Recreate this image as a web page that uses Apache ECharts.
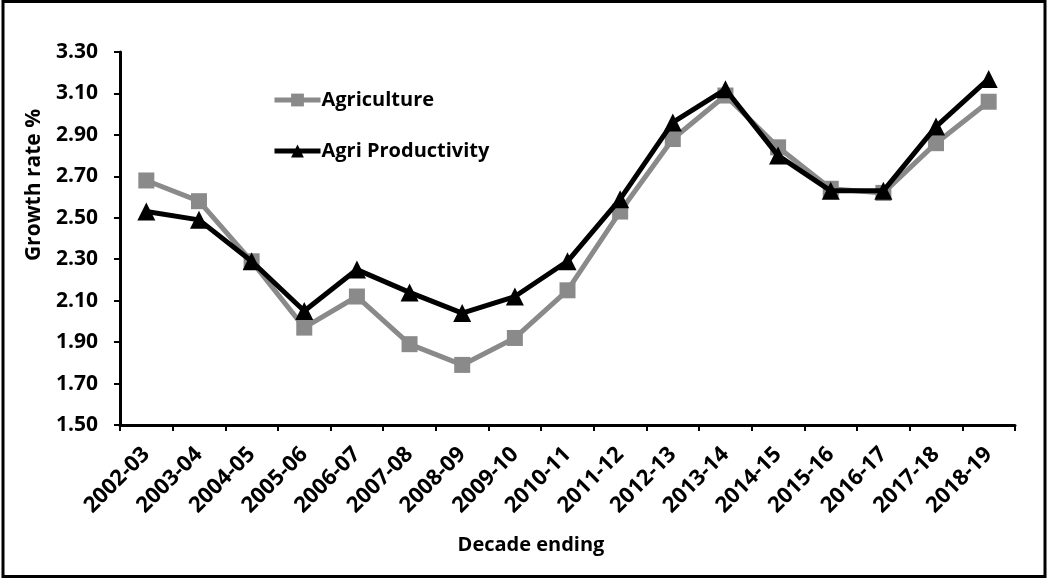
<!DOCTYPE html>
<html><head><meta charset="utf-8">
<script src="https://cdn.jsdelivr.net/npm/echarts@6/dist/echarts.min.js"></script>
<style>html,body{margin:0;padding:0;background:#fff}#c{width:1049px;height:579px}</style>
</head><body><div id="c"></div>
<script>
const categories = ["2002-03","2003-04","2004-05","2005-06","2006-07","2007-08","2008-09","2009-10","2010-11","2011-12","2012-13","2013-14","2014-15","2015-16","2016-17","2017-18","2018-19"];
const agriculture = [2.68,2.58,2.29,1.97,2.12,1.89,1.79,1.92,2.15,2.53,2.88,3.09,2.84,2.64,2.62,2.86,3.06];
const agriProductivity = [2.53,2.49,2.29,2.05,2.25,2.14,2.04,2.12,2.29,2.59,2.96,3.12,2.80,2.63,2.63,2.94,3.17];
const yTicks = {min:1.5, max:3.3, interval:0.2};
const font = 'Open Sans';

const chart = echarts.init(document.getElementById('c'), null, {renderer:'canvas'});
chart.setOption({
  animation:false,
  backgroundColor:'#fff',
  grid:{left:120, right:34, top:52, bottom:154},
  legend:{
    orient:'vertical', left:267, top:85, itemGap:31, itemWidth:46, itemHeight:16,
    lineStyle:{width:5},
    textStyle:{fontFamily:font, fontWeight:'bold', fontSize:20, color:'#000', padding:[0,0,0,-4]},
    data:['Agriculture','Agri Productivity']
  },
  xAxis:{
    type:'category', data:categories, boundaryGap:true,
    axisLine:{lineStyle:{color:'#000', width:3}},
    axisTick:{show:true, length:6, lineStyle:{color:'#000', width:2}, alignWithLabel:false},
    axisLabel:{rotate:45, fontFamily:font, fontWeight:'bold', fontSize:22, color:'#000', margin:26, interval:0},
    splitLine:{show:false}
  },
  yAxis:{
    type:'value', min:yTicks.min, max:yTicks.max, interval:yTicks.interval,
    axisLine:{show:true, lineStyle:{color:'#000', width:3}},
    axisTick:{show:true, inside:false, length:6, lineStyle:{color:'#000', width:2}},
    axisLabel:{fontFamily:font, fontWeight:'bold', fontSize:21, color:'#000', margin:22,
      formatter:v=>v.toFixed(2)},
    splitLine:{show:false}
  },
  series:[
    {name:'Agriculture', type:'line', data:agriculture, symbol:'rect', symbolSize:16,
      lineStyle:{color:'#8a8a8a', width:5}, itemStyle:{color:'#8a8a8a'}, z:2},
    {name:'Agri Productivity', type:'line', data:agriProductivity, symbol:'triangle', symbolSize:18,
      lineStyle:{color:'#000', width:5}, itemStyle:{color:'#000'}, z:3}
  ],
  graphic:[
    {type:'rect', shape:{x:3, y:1.5, width:1042, height:575}, style:{fill:null, stroke:'#000', lineWidth:3}, silent:true},
    {type:'text', x:531, y:545, style:{text:'Decade ending', font:'bold 20px "Open Sans"', fill:'#000', textAlign:'center', textVerticalAlign:'middle'}},
    {type:'text', x:34, y:185, rotation:Math.PI/2, style:{text:'Growth rate %', font:'bold 21px "Open Sans"', fill:'#000', textAlign:'center', textVerticalAlign:'middle'}}
  ]
});
</script></body></html>
